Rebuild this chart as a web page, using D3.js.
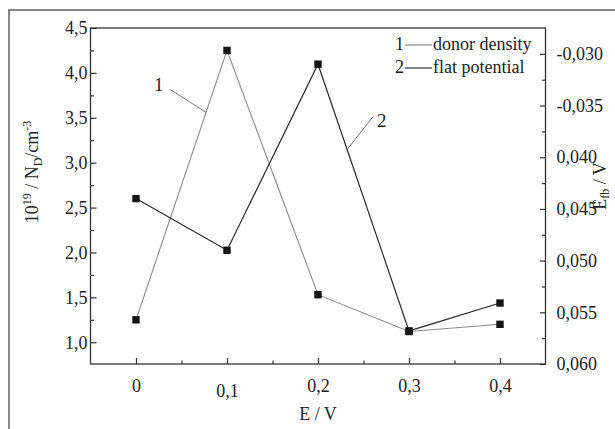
<!DOCTYPE html>
<html>
<head>
<meta charset="utf-8">
<script src="https://cdn.jsdelivr.net/npm/d3@7"></script>
<style>
  html, body { margin: 0; padding: 0; background: #fff; }
  svg { display: block; }
  text { font-family: "Liberation Serif", "Times New Roman", serif; fill: #222; }
</style>
</head>
<body>
<svg id="chart" width="615" height="429"></svg>
<script>
// Electrode potential, V
const potentials = [0, 0.1, 0.2, 0.3, 0.4];
// Curve 1: donor density, 10^19 cm^-3 (left axis)
const donorDensity = [1.25, 4.25, 1.53, 1.12, 1.20];
// Curve 2: flat-band potential, V (right axis)
const flatPotential = [-0.0440, -0.0490, -0.0310, -0.0568, -0.0541];

const xTickValues = [0, 0.1, 0.2, 0.3, 0.4];
const xTickLabels = ["0", "0,1", "0,2", "0,3", "0,4"];
const leftTickValues = [1.0, 1.5, 2.0, 2.5, 3.0, 3.5, 4.0, 4.5];
const leftTickLabels = ["1,0", "1,5", "2,0", "2,5", "3,0", "3,5", "4,0", "4,5"];
const rightTickValues = [-0.030, -0.035, -0.040, -0.045, -0.050, -0.055, -0.060];
const rightTickLabels = ["-0,030", "-0,035", "0,040", "0,045", "0,050", "0,055", "0,060"];
const legendNumbers = ["1", "2"];
const legendNames = ["donor density", "flat potential"];

const svg = d3.select("#chart");
const W = 615, H = 429;
const plotLeft = 90.5, plotRight = 545.5, plotTop = 28, plotBottom = 364;

svg.append("rect").attr("width", W).attr("height", H).attr("fill", "#fff");

// outer frame of the figure
svg.append("rect")
  .attr("x", 9).attr("y", 10)
  .attr("width", 640).attr("height", 460)
  .attr("fill", "none").attr("stroke", "#555").attr("stroke-width", 1.4);

const x = d3.scaleLinear().domain([-0.05, 0.45]).range([plotLeft, plotRight]);
const yL = d3.scaleLinear().domain([0.758, 4.5]).range([plotBottom, plotTop]);
const yR = d3.scaleLinear().domain([-0.060, -0.0275]).range([plotBottom, plotTop]);

const axisColor = "#333";
const fontSize = 18;

function styleAxis(g) {
  g.select(".domain").remove();
  g.selectAll("line").attr("stroke", axisColor).attr("stroke-width", 1.2);
  g.selectAll("text").attr("font-size", fontSize).attr("fill", "#222")
    .attr("font-family", "'Liberation Serif', 'Times New Roman', serif");
}

// bottom axis: major + minor ticks pointing inward
const xMajor = svg.append("g").attr("transform", `translate(0,${plotBottom})`)
  .call(d3.axisBottom(x).tickValues(xTickValues).tickSize(-6).tickPadding(15)
    .tickFormat((d, i) => xTickLabels[i]));
styleAxis(xMajor);
// the 0,1 label is set a little lower than its neighbours
xMajor.selectAll(".tick text").filter((d) => Math.abs(d - 0.1) < 1e-9).attr("dy", "1.0em");
svg.append("g").attr("transform", `translate(0,${plotBottom})`)
  .call(d3.axisBottom(x).tickValues([0.05, 0.15, 0.25, 0.35])
    .tickSize(-3.5).tickFormat(""))
  .call(styleAxis);

// left axis
const yLMajor = svg.append("g").attr("transform", `translate(${plotLeft},0)`)
  .call(d3.axisLeft(yL).tickValues(leftTickValues).tickSize(-6).tickPadding(3)
    .tickFormat((d, i) => leftTickLabels[i]));
styleAxis(yLMajor);
svg.append("g").attr("transform", `translate(${plotLeft},0)`)
  .call(d3.axisLeft(yL).tickValues([1.25, 1.75, 2.25, 2.75, 3.25, 3.75, 4.25]).tickSize(-3.5).tickFormat(""))
  .call(styleAxis);

// right axis
const yRMajor = svg.append("g").attr("transform", `translate(${plotRight},0)`)
  .call(d3.axisRight(yR).tickValues(rightTickValues).tickSize(-5.5).tickPadding(11)
    .tickFormat((d, i) => rightTickLabels[i]));
styleAxis(yRMajor);
svg.append("g").attr("transform", `translate(${plotRight},0)`)
  .call(d3.axisRight(yR).tickValues([-0.0325, -0.0375, -0.0425, -0.0475, -0.0525, -0.0575]).tickSize(-3.5).tickFormat(""))
  .call(styleAxis);

// plot frame
svg.append("rect")
  .attr("x", plotLeft).attr("y", plotTop)
  .attr("width", plotRight - plotLeft).attr("height", plotBottom - plotTop)
  .attr("fill", "none").attr("stroke", axisColor).attr("stroke-width", 1.3);

// axis titles
svg.append("text").attr("x", (plotLeft + plotRight) / 2).attr("y", 420)
  .attr("text-anchor", "middle").attr("font-size", fontSize).text("E / V");

const ytl = svg.append("text")
  .attr("transform", "translate(38,172) rotate(-90)")
  .attr("text-anchor", "middle").attr("font-size", fontSize);
ytl.append("tspan").text("10");
ytl.append("tspan").attr("font-size", 12).attr("dy", -7).text("19");
ytl.append("tspan").attr("dy", 7).text(" / N");
ytl.append("tspan").attr("font-size", 12).attr("dy", 4).text("D");
ytl.append("tspan").attr("dy", -4).text("/cm");
ytl.append("tspan").attr("font-size", 12).attr("dy", -7).text("-3");

const ytr = svg.append("text")
  .attr("transform", "translate(606,186) rotate(-90)")
  .attr("text-anchor", "middle").attr("font-size", fontSize);
ytr.append("tspan").text("E");
ytr.append("tspan").attr("font-size", 12).attr("dy", 3).text("fb");
ytr.append("tspan").attr("dy", -3).text(" / V");

// data series
const series = [
  { values: donorDensity, y: yL, color: "#8a8a8a", width: 1.1 },
  { values: flatPotential, y: yR, color: "#2a2a2a", width: 1.2 }
];

series.forEach(s => {
  const line = d3.line().x((d, i) => x(potentials[i])).y(d => s.y(d));
  svg.append("path").datum(s.values)
    .attr("d", line).attr("fill", "none")
    .attr("stroke", s.color).attr("stroke-width", s.width);
});
series.forEach(s => {
  svg.selectAll(null).data(s.values).enter().append("rect")
    .attr("x", (d, i) => x(potentials[i]) - 3.7)
    .attr("y", d => s.y(d) - 3.7)
    .attr("width", 7.4).attr("height", 7.4)
    .attr("fill", "#141414");
});

// curve labels with leader lines pointing onto a segment
function pointOn(s, i, t) {
  const x0 = x(potentials[i]), x1 = x(potentials[i + 1]);
  const y0 = s.y(s.values[i]), y1 = s.y(s.values[i + 1]);
  return [x0 + (x1 - x0) * t, y0 + (y1 - y0) * t];
}
const callouts = [
  { s: series[0], seg: 0, t: 0.77, dx: -36, dy: -23, label: "1", lx: -52, ly: -21 },
  { s: series[1], seg: 2, t: 0.32, dx: 26, dy: -33, label: "2", lx: 30, ly: -23 }
];
callouts.forEach(c => {
  const [px, py] = pointOn(c.s, c.seg, c.t);
  svg.append("line")
    .attr("x1", px).attr("y1", py).attr("x2", px + c.dx).attr("y2", py + c.dy)
    .attr("stroke", "#777").attr("stroke-width", 1);
  svg.append("text")
    .attr("x", px + c.lx).attr("y", py + c.ly)
    .attr("font-size", 19).text(c.label);
});

// legend
const legend = svg.append("g").attr("transform", "translate(395,0)");
legendNumbers.forEach((n, i) => {
  const yy = 50 + i * 23;
  legend.append("text").attr("x", 0).attr("y", yy).attr("font-size", fontSize).text(n);
  legend.append("line")
    .attr("x1", 10).attr("x2", 37).attr("y1", yy - 5).attr("y2", yy - 5)
    .attr("stroke", series[i].color).attr("stroke-width", 1.2);
  legend.append("text").attr("x", 38).attr("y", yy).attr("font-size", fontSize).text(legendNames[i]);
});
</script>
</body>
</html>
